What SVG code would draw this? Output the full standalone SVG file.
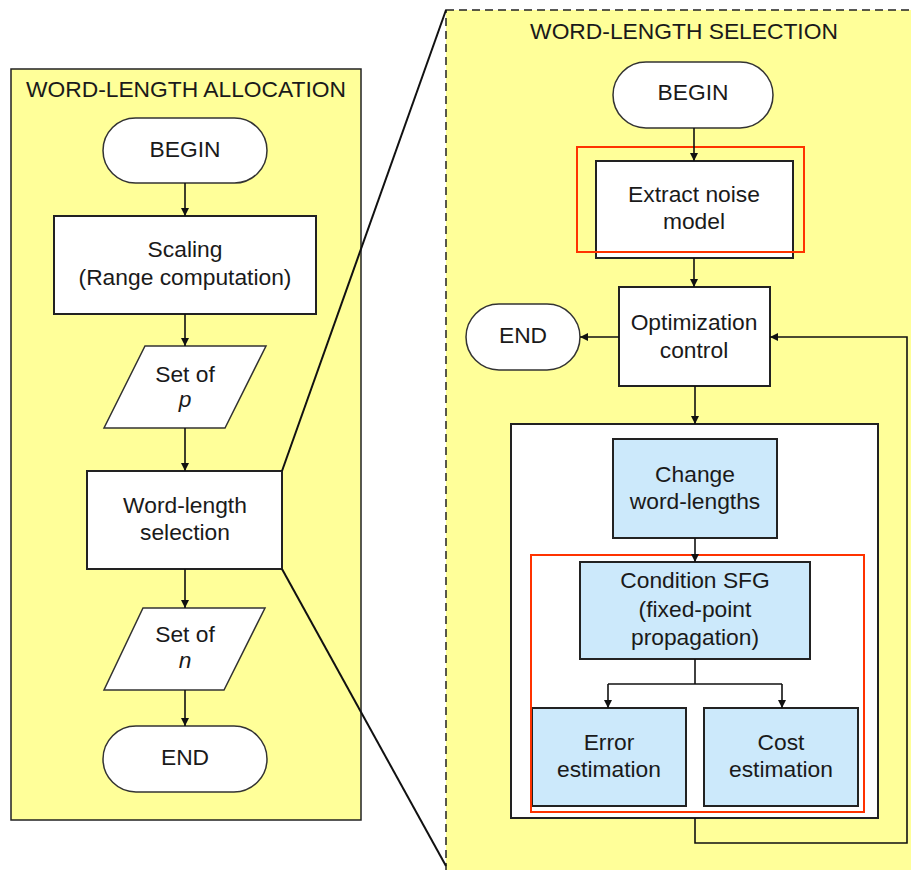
<svg xmlns="http://www.w3.org/2000/svg" width="911" height="870" viewBox="0 0 911 870">
  <style>
    text { font-family: "Liberation Sans", Arial, sans-serif; font-size: 22.8px; fill: #1a1a1a; text-anchor: middle; }
    .panel { fill: #ffff99; stroke: #222; stroke-width: 1.5; }
    .dashed { stroke-dasharray: 8 5; }
    .box { fill: #ffffff; stroke: #222; stroke-width: 2; }
    .blue { fill: #cce9fb; stroke: #222; stroke-width: 2; }
    .term { fill: #ffffff; stroke: #333; stroke-width: 1.5; }
    .hl { fill: none; stroke: #ff3300; stroke-width: 2; }
    .conn { fill: none; stroke: #111; stroke-width: 1.6; }
    .zoomline { fill: none; stroke: #111; stroke-width: 2; }
    .it { font-style: italic; }
  </style>
  <defs>
    <marker id="arrow" viewBox="0 0 10 10" refX="10" refY="5" markerWidth="8" markerHeight="8" markerUnits="userSpaceOnUse" orient="auto">
      <path d="M0,0 L10,5 L0,10 z" fill="#111"/>
    </marker>
  </defs>

  <rect width="911" height="870" fill="#ffffff"/>

  <!-- Panels -->
  <rect id="panel-allocation" class="panel" x="11" y="69" width="350" height="751"/>
  <text x="186" y="97">WORD-LENGTH ALLOCATION</text>

  <rect id="panel-selection" class="panel dashed" x="446" y="10" width="480" height="880"/>
  <text x="684" y="39">WORD-LENGTH SELECTION</text>

  <!-- Left flow -->
  <g id="l-begin">
    <rect class="term" x="103" y="118" width="164" height="65" rx="32.5"/>
    <text x="185" y="157">BEGIN</text>
  </g>
  <g id="l-scaling">
    <rect class="box" x="54" y="216" width="262" height="98"/>
    <text x="185" y="257">Scaling</text>
    <text x="185" y="285">(Range computation)</text>
  </g>
  <g id="l-setp">
    <polygon class="term" points="145,346 266,346 225,428 104,428"/>
    <text x="185" y="382">Set of</text>
    <text x="185" y="407" class="it">p</text>
  </g>
  <g id="l-wlsel">
    <rect class="box" x="87" y="471" width="195" height="98"/>
    <text x="185" y="513">Word-length</text>
    <text x="185" y="540">selection</text>
  </g>
  <g id="l-setn">
    <polygon class="term" points="143,608 265,608 224,690 104,690"/>
    <text x="185" y="642">Set of</text>
    <text x="185" y="668" class="it">n</text>
  </g>
  <g id="l-end">
    <rect class="term" x="103" y="726" width="164" height="66" rx="33"/>
    <text x="185" y="765">END</text>
  </g>

  <!-- Right flow -->
  <g id="r-begin">
    <rect class="term" x="613" y="62" width="160" height="66" rx="33"/>
    <text x="693" y="100">BEGIN</text>
  </g>
  <g id="r-extract">
    <rect class="box" x="596" y="161" width="197" height="97"/>
    <text x="694" y="202">Extract noise</text>
    <text x="694" y="229">model</text>
  </g>
  <g id="r-opt">
    <rect class="box" x="619" y="287" width="151" height="99"/>
    <text x="694" y="330">Optimization</text>
    <text x="694" y="358">control</text>
  </g>
  <g id="r-end">
    <rect class="term" x="466" y="304" width="114" height="66" rx="33"/>
    <text x="523" y="343">END</text>
  </g>
  <g id="r-loop">
    <rect class="box" x="511" y="424" width="367" height="394"/>
  </g>
  <g id="r-change">
    <rect class="blue" x="613" y="439" width="164" height="99"/>
    <text x="695" y="482">Change</text>
    <text x="695" y="509">word-lengths</text>
  </g>
  <g id="r-condition">
    <rect class="blue" x="580" y="562" width="230" height="97"/>
    <text x="695" y="588">Condition SFG</text>
    <text x="695" y="617">(fixed-point</text>
    <text x="695" y="645">propagation)</text>
  </g>
  <g id="r-error">
    <rect class="blue" x="532" y="708" width="154" height="98"/>
    <text x="609" y="750">Error</text>
    <text x="609" y="777">estimation</text>
  </g>
  <g id="r-cost">
    <rect class="blue" x="704" y="708" width="154" height="98"/>
    <text x="781" y="750">Cost</text>
    <text x="781" y="777">estimation</text>
  </g>

  <!-- Highlight frames -->
  <rect class="hl" x="577" y="147" width="227" height="105"/>
  <rect class="hl" x="531" y="555" width="333" height="257"/>

  <!-- Connectors -->
  <g id="connectors">
    <line class="conn" x1="185" y1="183" x2="185" y2="216" marker-end="url(#arrow)"/>
    <line class="conn" x1="185" y1="314" x2="185" y2="346" marker-end="url(#arrow)"/>
    <line class="conn" x1="185" y1="428" x2="185" y2="471" marker-end="url(#arrow)"/>
    <line class="conn" x1="185" y1="569" x2="185" y2="608" marker-end="url(#arrow)"/>
    <line class="conn" x1="185" y1="690" x2="185" y2="726" marker-end="url(#arrow)"/>

    <line class="conn" x1="694" y1="128" x2="694" y2="161" marker-end="url(#arrow)"/>
    <line class="conn" x1="694" y1="258" x2="694" y2="287" marker-end="url(#arrow)"/>
    <line class="conn" x1="619" y1="337" x2="580" y2="337" marker-end="url(#arrow)"/>
    <line class="conn" x1="695" y1="386" x2="695" y2="424" marker-end="url(#arrow)"/>
    <line class="conn" x1="695" y1="538" x2="695" y2="562" marker-end="url(#arrow)"/>
    <polyline class="conn" points="695,659 695,684"/>
    <polyline class="conn" points="608,684 782,684"/>
    <line class="conn" x1="608" y1="684" x2="608" y2="708" marker-end="url(#arrow)"/>
    <line class="conn" x1="782" y1="684" x2="782" y2="708" marker-end="url(#arrow)"/>
    <polyline class="conn" points="695,818 695,843 907,843 907,337 770,337" marker-end="url(#arrow)"/>

    <!-- Zoom-out lines -->
    <line class="zoomline" x1="282" y1="471" x2="446" y2="10"/>
    <line class="zoomline" x1="282" y1="569" x2="446" y2="866"/>
  </g>
</svg>
